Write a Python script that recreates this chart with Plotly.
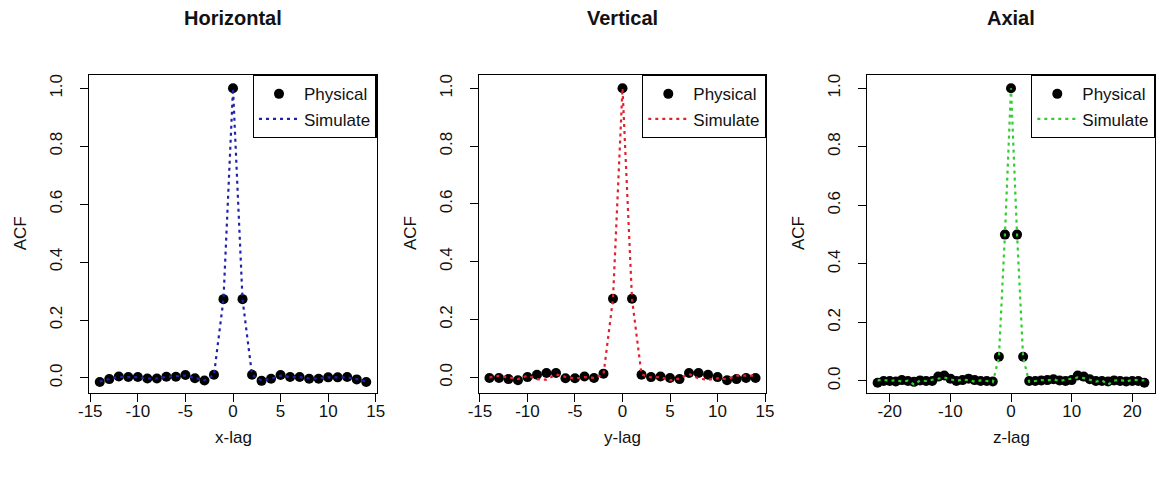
import plotly.graph_objects as go

# ---- data -------------------------------------------------------------
x_lag = list(range(-14, 15))
y_lag = list(range(-14, 15))
z_lag = list(range(-22, 23))

horiz_physical = [-0.014, -0.004, 0.005, 0.003, 0.003, -0.002, -0.002, 0.004, 0.004, 0.01,
                  -0.001, -0.009, 0.011, 0.272, 1.0, 0.272, 0.011, -0.010, -0.003, 0.010,
                  0.003, 0.003, -0.003, -0.003, 0.002, 0.002, 0.003, -0.005, -0.014]
horiz_simulate = [-0.012, -0.004, 0.004, 0.003, 0.003, -0.002, -0.002, 0.004, 0.005, 0.008,
                  0.000, -0.008, 0.010, 0.272, 1.0, 0.272, 0.010, -0.009, -0.003, 0.008,
                  0.003, 0.003, -0.002, -0.002, 0.002, 0.002, 0.002, -0.004, -0.012]

vert_physical = [-0.002, -0.002, -0.006, -0.010, 0.001, 0.009, 0.015, 0.015, -0.003, -0.003,
                 0.003, -0.002, 0.013, 0.272, 1.0, 0.272, 0.009, 0.001, 0.003, -0.002,
                 -0.006, 0.015, 0.015, 0.009, 0.001, -0.010, -0.006, -0.002, -0.002]
vert_simulate = [0.000, 0.005, 0.000, -0.006, 0.006, -0.006, -0.008, 0.010, 0.002, -0.004,
                 0.001, -0.002, 0.010, 0.272, 1.0, 0.272, 0.010, 0.000, 0.001, -0.010,
                 -0.004, 0.012, -0.004, -0.008, -0.003, -0.006, 0.006, 0.006, 0.006]

axial_physical = [-0.006, 0.000, 0.000, -0.002, 0.003, 0.000, -0.003, 0.002, 0.000, 0.000,
                  0.015, 0.019, 0.008, 0.000, 0.003, 0.008, 0.003, 0.000, 0.000, -0.002,
                  0.083, 0.500, 1.0, 0.500, 0.083,
                  0.000, 0.000, 0.002, 0.003, 0.006, 0.002, 0.000, 0.003, 0.019, 0.015,
                  0.006, 0.000, 0.000, -0.002, 0.002, 0.000, -0.002, 0.000, 0.000, -0.006]
axial_simulate = [0.002, 0.004, 0.000, 0.003, -0.002, 0.001, -0.012, 0.002, 0.000, 0.004,
                  0.010, 0.012, 0.006, 0.000, 0.005, 0.003, -0.002, 0.002, 0.000, -0.004,
                  0.080, 0.500, 1.0, 0.500, 0.080,
                  -0.003, 0.000, 0.003, 0.002, 0.006, 0.000, 0.004, 0.006, 0.012, 0.010,
                  0.004, -0.002, 0.002, -0.012, 0.001, 0.004, -0.002, 0.004, 0.003, 0.002]

titles = ["Horizontal", "Vertical", "Axial"]
xlabels = ["x-lag", "y-lag", "z-lag"]
line_colors = ["#2222a8", "#e0222c", "#33cc33"]
xtick_vals = [[-15, -10, -5, 0, 5, 10, 15], [-15, -10, -5, 0, 5, 10, 15], [-20, -10, 0, 10, 20]]
xtick_text = [["-15", "-10", "-5", "0", "5", "10", "15"],
              ["-15", "-10", "-5", "0", "5", "10", "15"],
              ["-20", "-10", "0", "10", "20"]]
ytick_vals = [0, 0.2, 0.4, 0.6, 0.8, 1.0]
ytick_text = ["0.0", "0.2", "0.4", "0.6", "0.8", "1.0"]

panels = [
    (x_lag, horiz_physical, horiz_simulate),
    (y_lag, vert_physical, vert_simulate),
    (z_lag, axial_physical, axial_simulate),
]

# ---- layout geometry (pixels) ------------------------------------------
W, H = 1157, 483
TOP, BOTTOM = 75, 90
plot_h = H - TOP - BOTTOM
box_px = [(89.3, 376.7), (479.0, 766.0), (867.0, 1155.0)]
x_ranges = [[-15.1, 15.1], [-15.1, 15.1], [-23.75, 23.75]]
y_ranges = [[-0.052, 1.046], [-0.054, 1.046], [-0.041, 1.045]]

FONT = "Liberation Sans, Arial, sans-serif"
INK = "#111111"

fig = go.Figure()
layout = dict(
    width=W, height=H, autosize=False,
    margin=dict(l=0, r=0, t=TOP, b=BOTTOM, pad=0, autoexpand=False),
    paper_bgcolor="white", plot_bgcolor="white",
    font=dict(family=FONT, size=16, color=INK),
    showlegend=True,
    annotations=[],
)

for i, (lags, phys, sim) in enumerate(panels):
    n = "" if i == 0 else str(i + 1)
    leg = "legend" + n
    fig.add_trace(go.Scatter(
        x=lags, y=phys, mode="markers", name="Physical",
        marker=dict(color="black", size=10, line=dict(width=0)),
        xaxis="x" + n, yaxis="y" + n, legend=leg,
    ))
    fig.add_trace(go.Scatter(
        x=lags, y=sim, mode="lines", name="Simulate",
        line=dict(color=line_colors[i], width=2.2, dash="3px,4px"),
        xaxis="x" + n, yaxis="y" + n, legend=leg,
    ))

    x0, x1 = box_px[i]
    dom = [x0 / W, x1 / W]
    axis_common = dict(
        showline=True, linecolor="black", linewidth=1.3, mirror=True,
        showgrid=False, zeroline=False, ticks="outside", ticklen=8,
        tickwidth=1.2, tickcolor="black", automargin=False,
        tickfont=dict(family=FONT, size=17, color=INK),
    )
    layout["xaxis" + n] = dict(
        axis_common, domain=dom, range=x_ranges[i], anchor="y" + n,
        tickmode="array", tickvals=xtick_vals[i], ticktext=xtick_text[i],
        ticklabelstandoff=-6,
    )
    layout["yaxis" + n] = dict(
        axis_common, domain=[0, 1], range=y_ranges[i], anchor="x" + n,
        tickmode="array", tickvals=ytick_vals, ticktext=ytick_text,
        tickangle=-90, ticklabelstandoff=11,
    )
    layout[leg] = dict(
        x=dom[1], xanchor="right", y=1, yanchor="top",
        xref="paper", yref="paper",
        bordercolor="black", borderwidth=1.3, bgcolor="white",
        font=dict(family=FONT, size=17, color=INK),
        itemwidth=40, tracegroupgap=0,
    )

    cx = (x0 + x1) / 2 / W
    layout["annotations"].append(dict(
        text="<b>" + titles[i] + "</b>", x=cx, y=(H - BOTTOM - 18) / plot_h,
        xref="paper", yref="paper", showarrow=False,
        font=dict(family=FONT, size=20, color=INK),
        xanchor="center", yanchor="middle",
    ))
    layout["annotations"].append(dict(
        text=xlabels[i], x=cx, y=(H - BOTTOM - 437) / plot_h,
        xref="paper", yref="paper", showarrow=False,
        font=dict(family=FONT, size=17, color=INK),
        xanchor="center", yanchor="middle",
    ))
    layout["annotations"].append(dict(
        text="ACF", x=(x0 - 69) / W, y=(H - BOTTOM - 233) / plot_h,
        xref="paper", yref="paper", showarrow=False, textangle=-90,
        font=dict(family=FONT, size=17, color=INK),
        xanchor="center", yanchor="middle",
    ))

fig.update_layout(**layout)
fig.write_html("out.html")
